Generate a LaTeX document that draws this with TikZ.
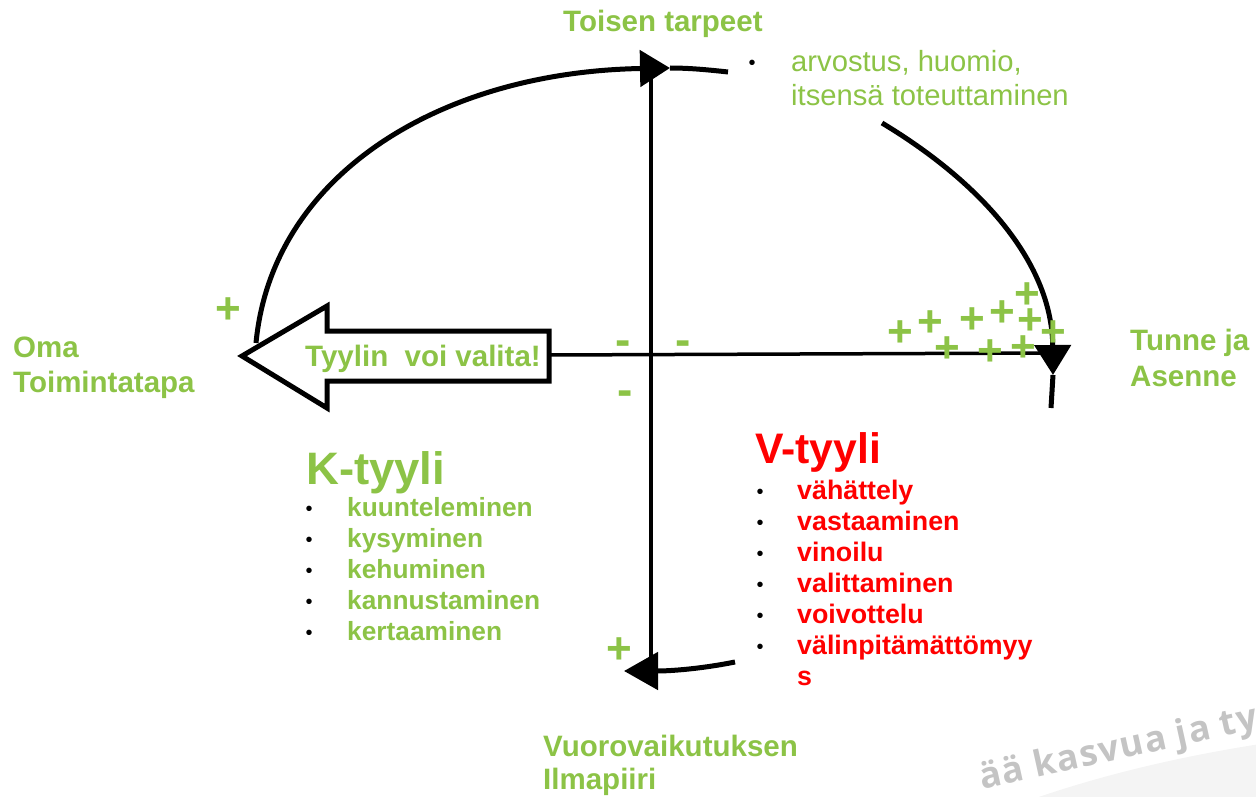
\documentclass[tikz,border=0pt]{standalone}
\usepackage{fontspec}
\setmainfont{Liberation Sans}
\newfontfamily\wmfont[LetterSpace=4]{Open Sans}
\usetikzlibrary{arrows.meta}
\definecolor{kgreen}{RGB}{140,195,70}
\definecolor{vred}{RGB}{255,0,0}
\definecolor{wmgray}{RGB}{196,196,196}
\definecolor{wmband}{RGB}{244,244,244}
\begin{document}
\begin{tikzpicture}[x=1pt,y=-1pt,
  lbl/.style={font=\fontsize{29.5}{32}\selectfont\bfseries, text=kgreen, anchor=base west, inner sep=0},
  reg/.style={font=\fontsize{29.2}{32}\selectfont, text=kgreen, anchor=base west, inner sep=0},
  head/.style={font=\fontsize{44}{46}\selectfont\bfseries, anchor=base west, inner sep=0},
  kitem/.style={font=\fontsize{26.3}{28}\selectfont\bfseries, text=kgreen, anchor=base west, inner sep=0},
  vitem/.style={font=\fontsize{26.8}{28}\selectfont\bfseries, text=vred, anchor=base west, inner sep=0},
  bul/.style={font=\fontsize{20}{22}\selectfont, text=black, anchor=base, inner sep=0},
  plus/.style={font=\fontsize{44}{44}\selectfont\bfseries, text=kgreen, anchor=base, inner sep=0},
  minus/.style={font=\fontsize{46}{46}\selectfont\bfseries, text=kgreen, anchor=base, inner sep=0},
  curve/.style={line width=5pt},
  axis/.style={line width=4pt},
  bigtip/.style={-{Triangle[length=30pt,width=36pt]}},
]
\useasboundingbox (0,0) rectangle (1256,797);
\begin{scope}
\clip (0,0) rectangle (1256,797);
% watermark band and text
\fill[wmband] (1030,800) .. controls (1110,772) and (1190,755) .. (1260,744) -- (1260,800) -- cycle;
\node[font=\wmfont\bfseries\fontsize{36}{38}\selectfont, text=wmgray, anchor=base west, rotate=12.5, inner sep=0] (wm) at (982,790) {ää kasvua ja ty};
\end{scope}

% named points
\coordinate (vtop) at (651,72);
\coordinate (vbot) at (651,662);
\coordinate (hleft) at (549,355);
\coordinate (hright) at (1050,353);
\coordinate (a1s) at (256,343);
\coordinate (a1t) at (670,68);
\coordinate (a1e) at (728,72);
\coordinate (a2s) at (882,123);
\coordinate (a2t) at (1053,375);
\coordinate (a2e) at (1051,408);
\coordinate (a3s) at (735,662);
\coordinate (a3t) at (624,671);

% axes
\draw[axis] (vtop) -- (vbot);
\draw[line width=3.5pt] (hleft) -- (hright);

% curved arrows
\draw[curve, bigtip] (a1s) .. controls (272,175) and (440,72) .. (a1t);
\draw[curve] (a1t) .. controls (690,68) and (710,70) .. (a1e);
\draw[curve, bigtip] (a2s) .. controls (985,185) and (1052,265) .. (a2t);
\draw[curve] (a2t) -- (a2e);
\draw[curve, {-Triangle[length=34pt,width=37pt]}] (a3s) .. controls (700,669) and (670,671) .. (a3t);

% block arrow
\draw[line width=5pt, fill=white, line join=miter]
  (242,356) -- (327,306) -- (327,331) -- (549,331) -- (549,381) -- (327,381) -- (327,408) -- cycle;
\node[lbl] (valita) at (305,366) {Tyylin\ \ voi valita!};

% axis labels
\node[lbl] (toisen) at (563,32) {Toisen tarpeet};
\node[bul] (b0) at (752,70) {•};
\node[reg] (arv) at (791,72) {arvostus, huomio,};
\node[reg] (its) at (791,106) {itsensä toteuttaminen};
\node[lbl] (oma1) at (13,357) {Oma};
\node[lbl] (oma2) at (13,392) {Toimintatapa};
\node[lbl] (tun1) at (1130,350) {Tunne ja};
\node[lbl] (tun2) at (1130,386) {Asenne};
\node[lbl] (vuo1) at (543,756) {Vuorovaikutuksen};
\node[lbl] (vuo2) at (543,789) {Ilmapiiri};

% K-tyyli
\node[head, font=\fontsize{45.5}{48}\selectfont\bfseries, text=kgreen] (kt) at (306,484) {K-tyyli};
\foreach \t [count=\i] in {kuunteleminen,kysyminen,kehuminen,kannustaminen,kertaaminen}{
  \node[bul] (kb\i) at (309,{516+31*(\i-1)-1}) {•};
  \node[kitem] (ki\i) at (347,{516+31*(\i-1)}) {\t};
}

% V-tyyli
\node[head, font=\fontsize{42.7}{46}\selectfont\bfseries, text=vred] (vt) at (755,463) {V-tyyli};
\foreach \t [count=\i] in {vähättely,vastaaminen,vinoilu,valittaminen,voivottelu,välinpitämättömyy}{
  \node[bul] (vb\i) at (760,{499+31*(\i-1)-1}) {•};
  \node[vitem] (vi\i) at (797,{499+31*(\i-1)}) {\t};
}
\node[vitem] (vi7) at (797,685) {s};

% plus signs
\foreach \x/\y [count=\i] in {228/307,619/647,900/330,930/320,972/317,1002/310,1027/292,1030/318,1053/330,947/346,990/349,1023/345}{
  \node[plus] (p\i) at (\x,\y+16) {+};
}
% minus signs
\foreach \x/\y [count=\i] in {623/343,683/343,625/393}{
  \node[minus] (m\i) at (\x,\y+12) {-};
}
\end{tikzpicture}
\end{document}
